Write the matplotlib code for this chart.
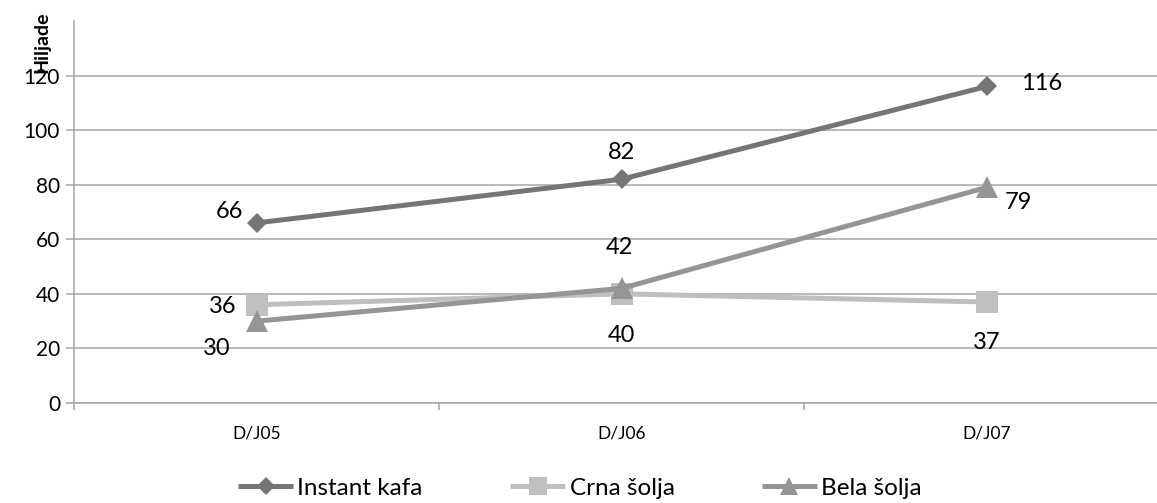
import matplotlib
matplotlib.use("Agg")
import matplotlib.pyplot as plt
import numpy as np

plt.rcParams["font.family"] = ["Lato", "DejaVu Sans"]

# Quarterly sales, thousands
PERIODS = ["D/J05", "D/J06", "D/J07"]
SERIES_NAMES = ["Instant kafa", "Crna šolja", "Bela šolja"]
INSTANT_KAFA = [66, 82, 116]
CRNA_SOLJA = [36, 40, 37]
BELA_SOLJA = [30, 42, 79]
Y_TICKS = [0, 20, 40, 60, 80, 100, 120]

STYLES = [
    dict(color="#757575", marker="D", markersize=10.5),
    dict(color="#bfbfbf", marker="s", markersize=15.5),
    dict(color="#959595", marker="^", markersize=15.5),
]
# label offsets in pixels, one per point
LABEL_OFFSETS = [
    [(-27, 11), (0, 27), (55, 3)],
    [(-34, -2), (0, -42), (0, -40)],
    [(-40, -27), (-2, 41), (32, -15)],
]

W, H = 1157, 503
fig = plt.figure(figsize=(W / 100, H / 100), dpi=100)
ax = fig.add_axes([74 / W, (H - 403) / H, (1169 - 74) / W, (403 - 21) / H])

x = np.arange(len(PERIODS))
handles = []
for name, vals, style, offs in zip(SERIES_NAMES, [INSTANT_KAFA, CRNA_SOLJA, BELA_SOLJA],
                                   STYLES, LABEL_OFFSETS):
    (ln,) = ax.plot(x, vals, color=style["color"], lw=3.6, marker=style["marker"],
                    markersize=style["markersize"], markeredgewidth=0,
                    solid_capstyle="butt", label=name, zorder=3, clip_on=False)
    handles.append(ln)
    for xi, v, (dx, dy) in zip(x, vals, offs):
        ax.annotate(str(v), (xi, v), xytext=(dx, dy), textcoords="offset pixels",
                    ha="center", va="center", fontsize=17, color="black")

ax.set_xlim(-0.5, len(PERIODS) - 0.5)
ax.set_ylim(0, 140)
ax.set_yticks(Y_TICKS)
ax.set_yticklabels([str(t) for t in Y_TICKS], fontsize=15)
ax.yaxis.grid(True, color="#a6a6a6", lw=1.1)
ax.set_axisbelow(True)

ax.set_xticks(x)
ax.set_xticklabels(PERIODS, fontsize=12.5)
ax.set_xticks(np.arange(len(PERIODS) + 1) - 0.5, minor=True)
ax.tick_params(axis="x", which="major", length=0, pad=16)
ax.tick_params(axis="x", which="minor", length=5, width=1.1, color="#a6a6a6", direction="out")
ax.tick_params(axis="y", length=6, width=1.1, color="#a6a6a6", pad=4)

for side in ["top", "right"]:
    ax.spines[side].set_visible(False)
ax.spines["left"].set_color("#a6a6a6")
ax.spines["left"].set_linewidth(1.1)
ax.spines["bottom"].set_color("#a6a6a6")
ax.spines["bottom"].set_linewidth(1.1)

fig.text(42 / W, 1 - 42 / H, "Hiljade", rotation=90, ha="center", va="center",
         fontsize=14, fontweight="bold")

fig.legend(handles=handles, loc="center", bbox_to_anchor=(580 / W, 1 - 488 / H),
           ncol=3, frameon=False, fontsize=17.5, handlelength=2.26, handletextpad=0.18,
           columnspacing=3.6, markerscale=0.85)

fig.savefig("out.png", dpi=100)
